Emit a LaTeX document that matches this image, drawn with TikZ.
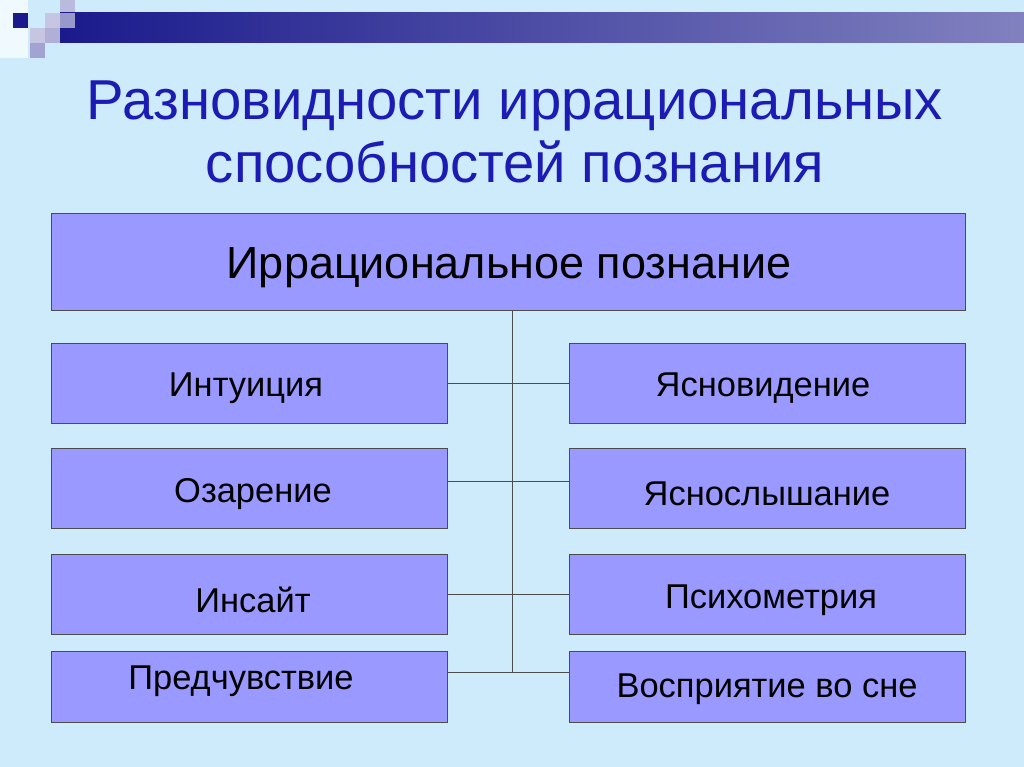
\documentclass[tikz,border=0pt]{standalone}
\usepackage{fontspec}
\setmainfont{Liberation Sans}
\definecolor{bgblue}{HTML}{CDEBFB}
\definecolor{boxfill}{HTML}{9999FF}
\definecolor{navy}{HTML}{1A1A8C}
\definecolor{titleblue}{HTML}{1C1CB4}
\begin{document}
\begin{tikzpicture}[x=0.025cm, y=-0.025cm,
    item/.style={draw=black!70, fill=boxfill, thin},
    label/.style={font=\fontsize{24.5}{29}\selectfont, text=black},
    link/.style={draw=black!70, thin}
]
    \useasboundingbox (0,0) rectangle (1024,767);
    \fill[bgblue] (0,0) rectangle (1024,767);
    % corner decoration
    \fill[white!70!bgblue] (0,0) rectangle (28,58);
    \fill[navy!30!white] (60,0) rectangle (75,13);
    \fill[left color=navy, right color=navy!55!white] (60,13) rectangle (1024,43);
    \fill[navy!25!white] (45,13) rectangle (60,28);
    \fill[navy!45!white] (60,13) rectangle (75,28);
    \fill[navy!35!white] (45,28) rectangle (60,43);
    \fill[navy!25!white] (30,28) rectangle (45,43);
    \fill[navy!40!white] (30,43) rectangle (45,58);
    \fill[navy] (13,13) rectangle (28,28);
    % title
    \node[text=titleblue, align=center, font=\fontsize{40}{45}\selectfont] (title) at (515,132)
        {Разновидности иррациональных\\способностей познания};
    % boxes
    \draw[item] (51,213) rectangle (965,310);
    \draw[item] (51,343) rectangle (447,423);
    \draw[item] (51,448) rectangle (447,528);
    \draw[item] (51,554) rectangle (447,634);
    \draw[item] (51,651) rectangle (447,722);
    \draw[item] (569,343) rectangle (965,423);
    \draw[item] (569,448) rectangle (965,528);
    \draw[item] (569,554) rectangle (965,634);
    \draw[item] (569,651) rectangle (965,722);
    \node[font=\fontsize{32}{36}\selectfont] (top) at (509,268) {Иррациональное познание};
    \node[label] (intu) at (246,388) {Интуиция};
    \node[label] (ozar) at (253,494) {Озарение};
    \node[label] (insa) at (253,600) {Инсайт};
    \node[label] (pred) at (241,681) {Предчувствие};
    \node[label] (yasv) at (763,388) {Ясновидение};
    \node[label] (yasl) at (767,494) {Яснослышание};
    \node[label] (psih) at (771,600) {Психометрия};
    \node[label] (vosp) at (767,689) {Восприятие во сне};
    % connectors
    \coordinate (trunk) at (512,310);
    \coordinate (foot) at (512,672);
    \draw[link] (trunk) -- (foot);
    \foreach \y in {383,481,594,672}
        \draw[link] (447,\y) -- (569,\y);
\end{tikzpicture}
\end{document}
